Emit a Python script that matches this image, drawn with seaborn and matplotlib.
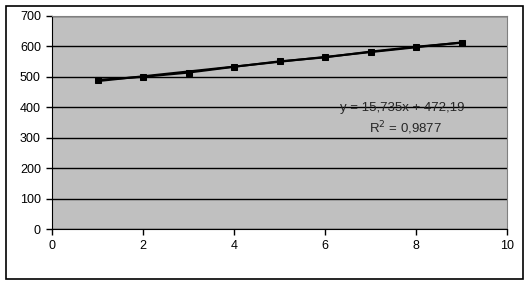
import matplotlib
matplotlib.use("Agg")
import matplotlib.pyplot as plt
import seaborn as sns
import pandas as pd
import numpy as np
from matplotlib.patches import Rectangle

x_vals = [1, 2, 3, 4, 5, 6, 7, 8, 9]
y_vals = [490, 500, 514, 533, 551, 564, 583, 599, 612]
eq_text = "y = 15,735x + 472,19"
r2_text = "R$^2$ = 0,9877"

sns.set_style("white")
plt.rcParams['font.family'] = ['Liberation Sans', 'DejaVu Sans']
plt.rcParams['font.size'] = 9

df = pd.DataFrame({"x": x_vals, "y": y_vals})

W, H = 529, 285
fig = plt.figure(figsize=(W / 100, H / 100), dpi=100)
fig.patches.append(Rectangle((5.5 / W, 1 - 278.5 / H), 517 / W, 273 / H,
                             transform=fig.transFigure, fill=False,
                             edgecolor='black', linewidth=1.2))
ax = fig.add_axes([52 / W, 1 - 229 / H, 455 / W, 213 / H])
ax.set_facecolor('#C0C0C0')

ax.set_xlim(0, 10)
ax.set_ylim(0, 700)
ax.set_xticks(range(0, 11, 2))
ax.set_yticks(range(0, 701, 100))
ax.yaxis.grid(True, color='black', linewidth=1)
ax.xaxis.grid(False)
ax.set_axisbelow(True)

sns.regplot(data=df, x="x", y="y", ax=ax, scatter=False, ci=None, truncate=True,
            line_kws=dict(color='black', linewidth=1.5))
sns.lineplot(data=df, x="x", y="y", ax=ax, color='black', linewidth=1.5,
             marker='s', markersize=5, markeredgecolor='black')

ax.set_xlabel("")
ax.set_ylabel("")
for s in ['top', 'right']:
    ax.spines[s].set_color('#808080')
for s in ['left', 'bottom']:
    ax.spines[s].set_color('black')
ax.tick_params(axis='both', direction='out', length=4, width=1, color='black',
               labelsize=9, labelcolor='black', left=True, bottom=True, pad=4)

ax.text(0.770, 0.568, eq_text, transform=ax.transAxes, ha='center', va='center', fontsize=9.5)
ax.text(0.776, 0.474, r2_text, transform=ax.transAxes, ha='center', va='center', fontsize=9.5)

fig.savefig("out.png", dpi=100)
